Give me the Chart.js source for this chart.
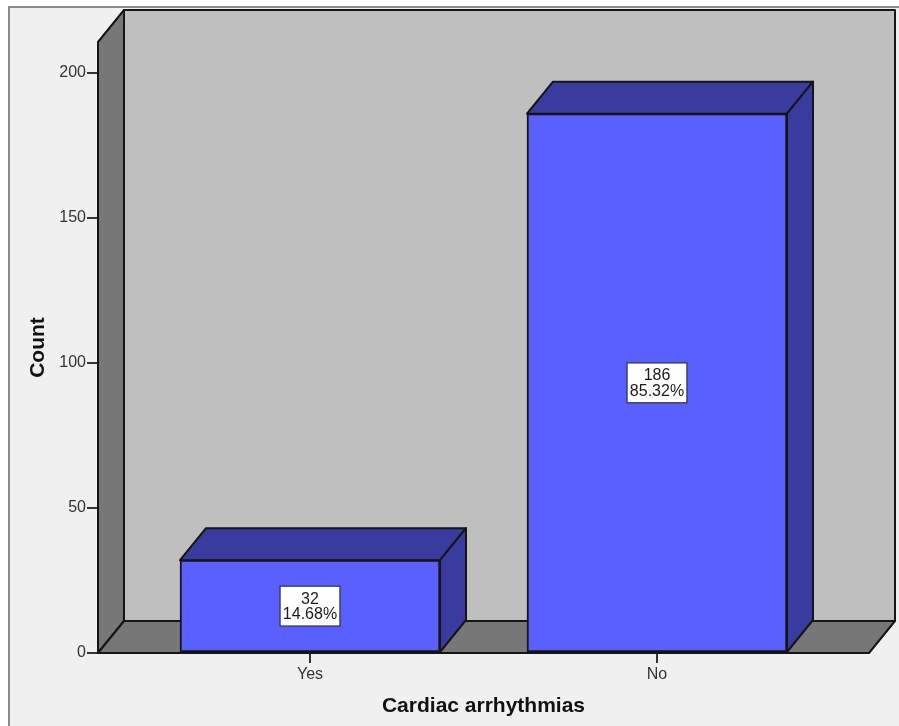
<!DOCTYPE html>
<html>
<head>
<meta charset="utf-8">
<script src="https://cdn.jsdelivr.net/npm/chart.js@4/dist/chart.umd.min.js"></script>
<style>html,body{margin:0;padding:0;background:#fff}canvas{display:block}</style>
</head>
<body>
<canvas id="c" width="899" height="726" style="width:899px;height:726px"></canvas>
<script>
const categories = ['Yes', 'No'];
const counts = [32, 186];
const percents = ['14.68%', '85.32%'];
const yTicksStep = 50;

const DX = 26, DY = 32;
const FONT = '"Liberation Sans", Arial, sans-serif';
const EDGE = '#151515';

function poly(ctx, pts, fill, stroke, lw) {
  ctx.beginPath();
  pts.forEach((p, i) => i ? ctx.lineTo(p[0], p[1]) : ctx.moveTo(p[0], p[1]));
  ctx.closePath();
  ctx.fillStyle = fill;
  ctx.fill();
  ctx.lineWidth = lw || 2;
  ctx.strokeStyle = stroke || EDGE;
  ctx.lineJoin = 'round';
  ctx.stroke();
}

const scene = {
  id: 'scene',
  beforeDraw(chart) {
    const ctx = chart.ctx;
    ctx.save();
    ctx.fillStyle = '#ffffff';
    ctx.fillRect(0, 0, chart.width, chart.height);
    ctx.fillStyle = '#f0f0f0';
    ctx.fillRect(9, 6, chart.width - 9, chart.height - 6);
    ctx.strokeStyle = '#8a8a8a';
    ctx.lineWidth = 2;
    ctx.beginPath();
    ctx.moveTo(9, chart.height);
    ctx.lineTo(9, 7);
    ctx.lineTo(chart.width, 7);
    ctx.stroke();
    ctx.restore();
  },
  beforeDatasetsDraw(chart) {
    const ctx = chart.ctx;
    const a = chart.chartArea;
    const l = a.left, r = a.right, t = a.top, b = a.bottom;
    ctx.save();
    poly(ctx, [[l + DX, t - DY], [r + DX, t - DY], [r + DX, b - DY], [l + DX, b - DY]], '#bfbfbf');
    poly(ctx, [[l, t], [l + DX, t - DY], [l + DX, b - DY], [l, b]], '#777777');
    poly(ctx, [[l, b], [l + DX, b - DY], [r + DX, b - DY], [r, b]], '#777777');
    chart.getDatasetMeta(0).data.forEach(bar => {
      const p = bar.getProps(['x', 'y', 'base', 'width'], true);
      const x0 = p.x - p.width / 2, x1 = p.x + p.width / 2;
      poly(ctx, [[x0, p.y], [x0 + DX, p.y - DY], [x1 + DX, p.y - DY], [x1, p.y]], '#393c9e');
      poly(ctx, [[x1, p.y], [x1 + DX, p.y - DY], [x1 + DX, p.base - DY], [x1, p.base]], '#393c9e');
    });
    ctx.restore();
  },
  afterDatasetsDraw(chart) {
    const ctx = chart.ctx;
    ctx.save();
    chart.getDatasetMeta(0).data.forEach((bar, i) => {
      const p = bar.getProps(['x', 'y', 'base'], true);
      const cy = (p.y + p.base) / 2;
      ctx.fillStyle = '#ffffff';
      ctx.strokeStyle = '#3a3f70';
      ctx.lineWidth = 1.5;
      ctx.fillRect(p.x - 30, cy - 20, 60, 40);
      ctx.strokeRect(p.x - 30, cy - 20, 60, 40);
      ctx.fillStyle = '#1a1a1a';
      ctx.font = '16px ' + FONT;
      ctx.textAlign = 'center';
      ctx.textBaseline = 'middle';
      ctx.fillText(String(counts[i]), p.x, cy - 7);
      ctx.fillText(percents[i], p.x, cy + 8.5);
    });
    ctx.restore();
  }
};

new Chart(document.getElementById('c'), {
  type: 'bar',
  data: {
    datasets: [{
      data: categories.map((c, i) => ({ x: i, y: counts[i] })),
      backgroundColor: '#5a60ff',
      borderColor: EDGE,
      borderWidth: 2,
      borderSkipped: false,
      barThickness: 260
    }]
  },
  plugins: [scene],
  options: {
    responsive: false,
    animation: false,
    devicePixelRatio: 1,
    layout: { padding: { top: 42, right: 30, left: 0, bottom: 0 } },
    plugins: { legend: { display: false }, tooltip: { enabled: false } },
    scales: {
      x: {
        type: 'linear',
        offset: false,
        min: -0.611,
        max: 1.611,
        afterBuildTicks(s) { s.ticks = categories.map((c, i) => ({ value: i })); },
        afterFit(s) { s.height = 73; },
        grid: { offset: false, drawOnChartArea: false, drawTicks: true, tickLength: 10, color: '#333', lineWidth: 2 },
        border: { display: false },
        ticks: {
          autoSkip: false, maxRotation: 0, padding: 2, includeBounds: false,
          color: '#333', font: { family: FONT, size: 16 },
          callback: v => categories[v]
        },
        title: {
          display: true, text: 'Cardiac arrhythmias', color: '#111',
          font: { family: FONT, size: 21, weight: 'bold' },
          padding: { top: 0, bottom: 7 }
        }
      },
      y: {
        min: 0,
        max: 210.7,
        afterFit(s) { s.width = 98; },
        grid: { drawOnChartArea: false, drawTicks: true, tickLength: 11, color: '#333', lineWidth: 2 },
        border: { display: false },
        ticks: {
          stepSize: yTicksStep, includeBounds: false, padding: 1,
          color: '#333', font: { family: FONT, size: 16 }
        },
        title: {
          display: true, text: 'Count', color: '#111',
          font: { family: FONT, size: 21, weight: 'bold' },
          padding: { top: 26, bottom: 0 }
        }
      }
    }
  }
});
</script>
</body>
</html>
